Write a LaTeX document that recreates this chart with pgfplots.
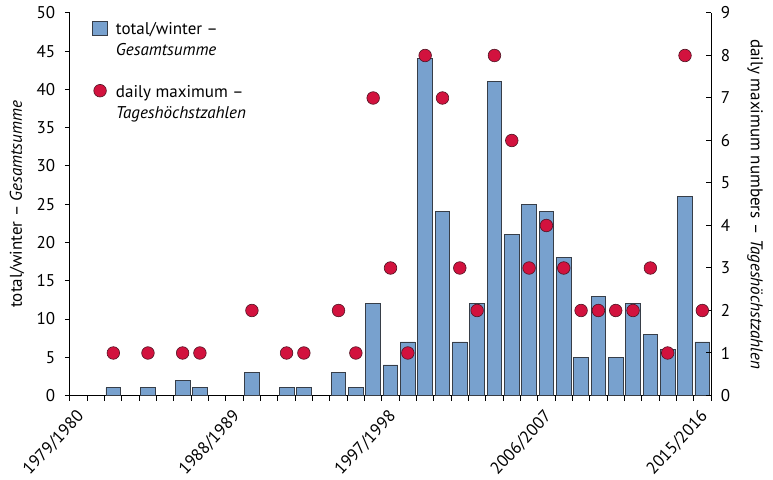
\documentclass[border=0pt]{standalone}
\usepackage{pgfplots}
\pgfplotsset{compat=1.18}
\usepackage{fontspec}
\setmainfont{PT Sans}
\definecolor{barblue}{RGB}{120,161,206}
\definecolor{baredge}{RGB}{55,62,72}
\definecolor{dotred}{RGB}{210,18,62}
\definecolor{dotedge}{RGB}{80,20,35}
\newcommand{\fs}{\fontsize{17bp}{20bp}\selectfont}
\begin{document}
\fs
\begin{tikzpicture}
\useasboundingbox (-70bp,-84.5bp) rectangle (703bp,395.5bp);
\begin{axis}[
  at={(0,0)}, anchor=south west,
  scale only axis, width=641bp, height=382.5bp,
  xmin=0, xmax=37, ymin=0, ymax=50,
  axis x line*=bottom, axis y line*=left,
  axis line style={line width=1bp, -},
  tick style={line width=1bp, black},
  tick align=outside,
  major tick length=5bp, minor tick length=5bp,
  xtick={0,9,18,27,36},
  minor xtick={0,...,37},
  xticklabels={1979/1980,1988/1989,1997/1998,2006/2007,2015/2016},
  xticklabel style={xshift=15bp, yshift=-9bp, rotate=47, anchor=east},
  ytick={0,5,...,50},
  yticklabel style={xshift=-4bp},
  tick label style={font=\fs},
  label style={font=\fs},
  /pgf/number format/assume math mode=true,
  ylabel={total/winter – \textit{Gesamtsumme}},
  ylabel style={at={(axis description cs:-0.0827,0.5)}, anchor=center},
]
\addplot[ybar, bar width=0.85, bar shift=0pt, fill=barblue, draw=baredge, line width=0.8bp] coordinates {
(2.5,1) (4.5,1) (6.5,2) (7.5,1) (10.5,3) (12.5,1) (13.5,1) (15.5,3) (16.5,1)
(17.5,12) (18.5,4) (19.5,7) (20.5,44) (21.5,24) (22.5,7) (23.5,12) (24.5,41)
(25.5,21) (26.5,25) (27.5,24) (28.5,18) (29.5,5) (30.5,13) (31.5,5) (32.5,12)
(33.5,8) (34.5,6) (35.5,26) (36.5,7)
};
\end{axis}
\begin{axis}[
  at={(0,0)}, anchor=south west,
  scale only axis, width=641bp, height=382.5bp,
  xmin=0, xmax=37, ymin=0, ymax=9,
  axis x line=none, axis y line*=right,
  axis line style={line width=1bp, -},
  tick style={line width=1bp, black},
  tick align=inside,
  major tick length=5bp,
  ytick={0,...,9},
  yticklabel style={xshift=4bp},
  tick label style={font=\fs},
  label style={font=\fs},
  /pgf/number format/assume math mode=true,
  ylabel={daily maximum numbers – \textit{Tageshöchstzahlen}},
  ylabel style={at={(axis description cs:1.0686,0.5)}, anchor=center, rotate=180},
  legend style={draw=none, fill=none, font=\fs, at={(axis description cs:0,1)}, anchor=north west,
    xshift=19bp, yshift=-3bp, cells={anchor=base west}, row sep=42.5bp, column sep=6bp},
]
\addlegendimage{legend image code/.code={\draw[fill=barblue, draw=baredge, line width=0.8bp] (0bp,-1.5bp) rectangle (15bp,13bp);}}
\addlegendentry{\begin{tabular}[t]{@{}l@{}}total/winter –\\[1.7bp]\textit{Gesamtsumme}\end{tabular}}
\addplot[only marks, mark=*, mark size=6.3bp, mark options={fill=dotred, draw=dotedge, line width=0.6bp},
  legend image code/.code={\draw[fill=dotred, draw=dotedge, line width=0.6bp] (7.5bp,6.5bp) circle (6.3bp);}] coordinates {
(2.5,1) (4.5,1) (6.5,1) (7.5,1) (10.5,2) (12.5,1) (13.5,1) (15.5,2) (16.5,1)
(17.5,7) (18.5,3) (19.5,1) (20.5,8) (21.5,7) (22.5,3) (23.5,2) (24.5,8)
(25.5,6) (26.5,3) (27.5,4) (28.5,3) (29.5,2) (30.5,2) (31.5,2) (32.5,2)
(33.5,3) (34.5,1) (35.5,8) (36.5,2)
};
\addlegendentry{\begin{tabular}[t]{@{}l@{}}daily maximum –\\[1.7bp]\textit{Tageshöchstzahlen}\end{tabular}}
\end{axis}
\end{tikzpicture}
\end{document}
